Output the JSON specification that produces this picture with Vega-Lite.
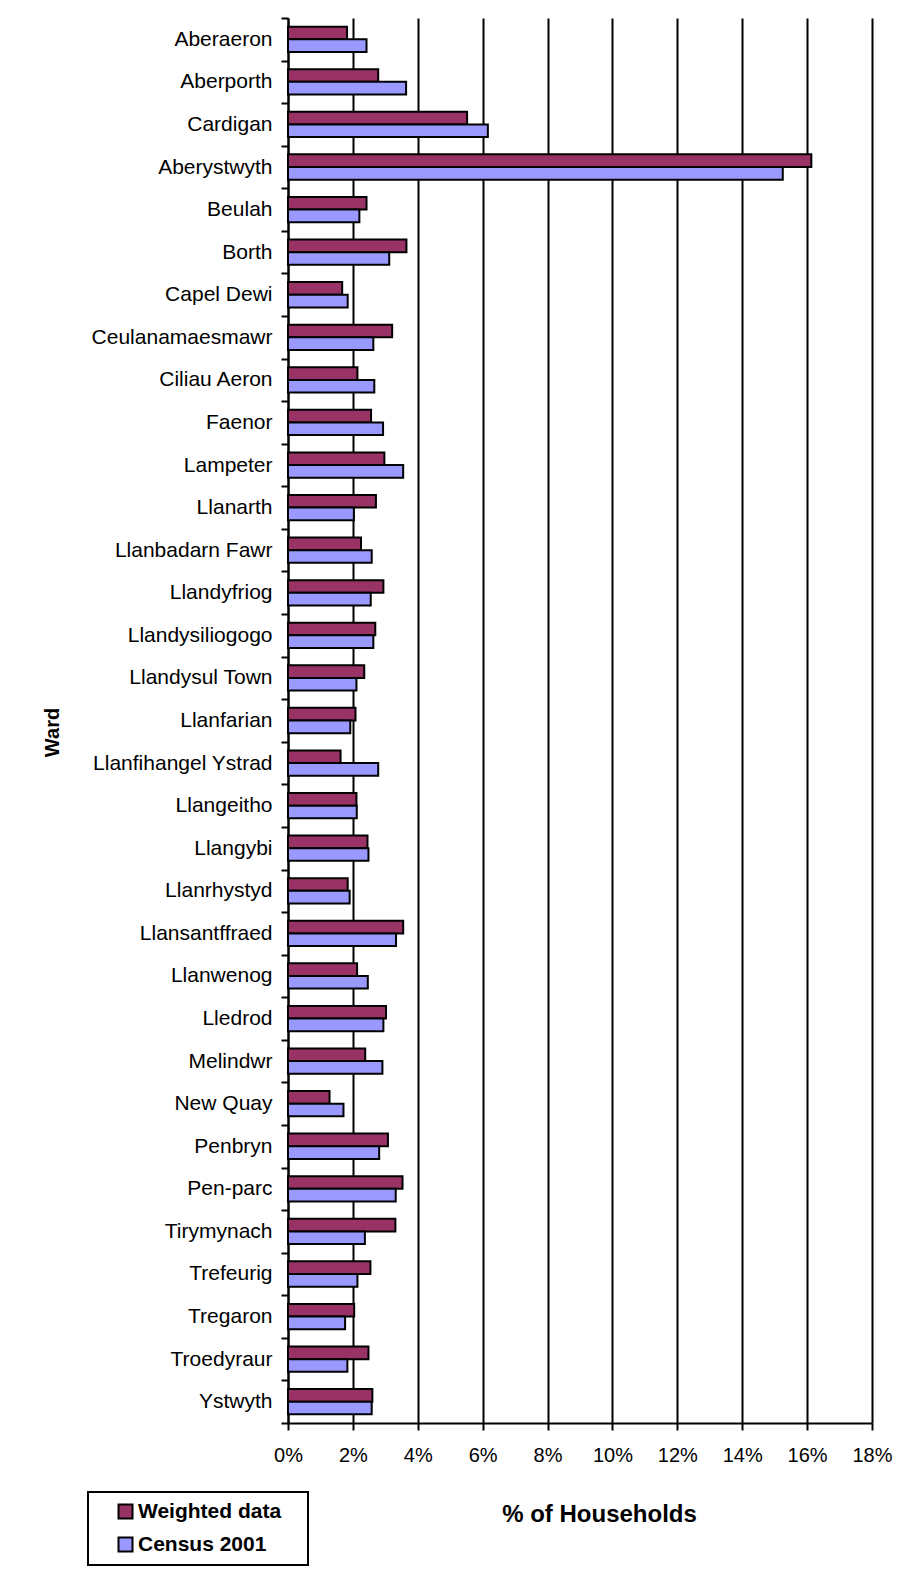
{
  "$schema": "https://vega.github.io/schema/vega-lite/v6.json",
  "autosize": "none",
  "padding": {"left": 288, "top": 18, "right": 42, "bottom": 172},
  "width": 584,
  "height": 1405,
  "background": "white",
  "config": {
    "font": "Liberation Sans",
    "view": {"stroke": null}
  },
  "data": {
    "values": [
      {"ward": "Aberaeron", "series": "Weighted data", "pct": 1.82},
      {"ward": "Aberaeron", "series": "Census 2001", "pct": 2.42},
      {"ward": "Aberporth", "series": "Weighted data", "pct": 2.78},
      {"ward": "Aberporth", "series": "Census 2001", "pct": 3.64},
      {"ward": "Cardigan", "series": "Weighted data", "pct": 5.52},
      {"ward": "Cardigan", "series": "Census 2001", "pct": 6.16},
      {"ward": "Aberystwyth", "series": "Weighted data", "pct": 16.13},
      {"ward": "Aberystwyth", "series": "Census 2001", "pct": 15.25},
      {"ward": "Beulah", "series": "Weighted data", "pct": 2.42},
      {"ward": "Beulah", "series": "Census 2001", "pct": 2.2},
      {"ward": "Borth", "series": "Weighted data", "pct": 3.65},
      {"ward": "Borth", "series": "Census 2001", "pct": 3.12},
      {"ward": "Capel Dewi", "series": "Weighted data", "pct": 1.67},
      {"ward": "Capel Dewi", "series": "Census 2001", "pct": 1.84},
      {"ward": "Ceulanamaesmawr", "series": "Weighted data", "pct": 3.21},
      {"ward": "Ceulanamaesmawr", "series": "Census 2001", "pct": 2.63},
      {"ward": "Ciliau Aeron", "series": "Weighted data", "pct": 2.14},
      {"ward": "Ciliau Aeron", "series": "Census 2001", "pct": 2.66},
      {"ward": "Faenor", "series": "Weighted data", "pct": 2.56},
      {"ward": "Faenor", "series": "Census 2001", "pct": 2.93},
      {"ward": "Lampeter", "series": "Weighted data", "pct": 2.97},
      {"ward": "Lampeter", "series": "Census 2001", "pct": 3.55},
      {"ward": "Llanarth", "series": "Weighted data", "pct": 2.71},
      {"ward": "Llanarth", "series": "Census 2001", "pct": 2.03},
      {"ward": "Llanbadarn Fawr", "series": "Weighted data", "pct": 2.25},
      {"ward": "Llanbadarn Fawr", "series": "Census 2001", "pct": 2.58},
      {"ward": "Llandyfriog", "series": "Weighted data", "pct": 2.94},
      {"ward": "Llandyfriog", "series": "Census 2001", "pct": 2.55},
      {"ward": "Llandysiliogogo", "series": "Weighted data", "pct": 2.69},
      {"ward": "Llandysiliogogo", "series": "Census 2001", "pct": 2.63},
      {"ward": "Llandysul Town", "series": "Weighted data", "pct": 2.35},
      {"ward": "Llandysul Town", "series": "Census 2001", "pct": 2.11},
      {"ward": "Llanfarian", "series": "Weighted data", "pct": 2.08},
      {"ward": "Llanfarian", "series": "Census 2001", "pct": 1.92},
      {"ward": "Llanfihangel Ystrad", "series": "Weighted data", "pct": 1.62},
      {"ward": "Llanfihangel Ystrad", "series": "Census 2001", "pct": 2.78},
      {"ward": "Llangeitho", "series": "Weighted data", "pct": 2.11},
      {"ward": "Llangeitho", "series": "Census 2001", "pct": 2.12},
      {"ward": "Llangybi", "series": "Weighted data", "pct": 2.45},
      {"ward": "Llangybi", "series": "Census 2001", "pct": 2.48},
      {"ward": "Llanrhystyd", "series": "Weighted data", "pct": 1.84},
      {"ward": "Llanrhystyd", "series": "Census 2001", "pct": 1.9},
      {"ward": "Llansantffraed", "series": "Weighted data", "pct": 3.55},
      {"ward": "Llansantffraed", "series": "Census 2001", "pct": 3.33},
      {"ward": "Llanwenog", "series": "Weighted data", "pct": 2.13},
      {"ward": "Llanwenog", "series": "Census 2001", "pct": 2.46},
      {"ward": "Lledrod", "series": "Weighted data", "pct": 3.02},
      {"ward": "Lledrod", "series": "Census 2001", "pct": 2.94},
      {"ward": "Melindwr", "series": "Weighted data", "pct": 2.38},
      {"ward": "Melindwr", "series": "Census 2001", "pct": 2.91},
      {"ward": "New Quay", "series": "Weighted data", "pct": 1.28},
      {"ward": "New Quay", "series": "Census 2001", "pct": 1.71},
      {"ward": "Penbryn", "series": "Weighted data", "pct": 3.08},
      {"ward": "Penbryn", "series": "Census 2001", "pct": 2.81},
      {"ward": "Pen-parc", "series": "Weighted data", "pct": 3.53},
      {"ward": "Pen-parc", "series": "Census 2001", "pct": 3.32},
      {"ward": "Tirymynach", "series": "Weighted data", "pct": 3.31},
      {"ward": "Tirymynach", "series": "Census 2001", "pct": 2.37},
      {"ward": "Trefeurig", "series": "Weighted data", "pct": 2.54},
      {"ward": "Trefeurig", "series": "Census 2001", "pct": 2.14},
      {"ward": "Tregaron", "series": "Weighted data", "pct": 2.04},
      {"ward": "Tregaron", "series": "Census 2001", "pct": 1.76},
      {"ward": "Troedyraur", "series": "Weighted data", "pct": 2.48},
      {"ward": "Troedyraur", "series": "Census 2001", "pct": 1.83},
      {"ward": "Ystwyth", "series": "Weighted data", "pct": 2.6},
      {"ward": "Ystwyth", "series": "Census 2001", "pct": 2.58}
    ]
  },
  "mark": {"type": "bar", "stroke": "black", "strokeWidth": 2},
  "encoding": {
    "y": {
      "field": "ward",
      "type": "nominal",
      "sort": null,
      "scale": {"paddingInner": 0, "paddingOuter": 0},
      "axis": {
        "title": "Ward",
        "titleFont": "Liberation Sans",
        "titleFontSize": 20,
        "titleFontWeight": "bold",
        "titleColor": "black",
        "titleAngle": 270,
        "titleBaseline": "middle",
        "titleAlign": "center",
        "titleX": -236,
        "titleY": 714,
        "tickBand": "extent",
        "domainColor": "black",
        "domainWidth": 2,
        "tickColor": "black",
        "tickWidth": 2,
        "tickSize": 7,
        "labelFontSize": 21,
        "labelColor": "black",
        "labelPadding": 9,
        "labelLimit": 300,
        "grid": false
      }
    },
    "yOffset": {
      "field": "series",
      "type": "nominal",
      "sort": ["Weighted data", "Census 2001"],
      "scale": {"paddingInner": 0, "paddingOuter": 0.684}
    },
    "x": {
      "field": "pct",
      "type": "quantitative",
      "scale": {"domain": [0, 18], "nice": false},
      "axis": {
        "title": "% of Households",
        "titleFontSize": 24,
        "titleFontWeight": "bold",
        "titleColor": "black",
        "titleX": 311,
        "titleY": 98,
        "titleAlign": "center",
        "titleBaseline": "alphabetic",
        "values": [0, 2, 4, 6, 8, 10, 12, 14, 16, 18],
        "labelExpr": "datum.value + '%'",
        "labelFlush": false,
        "labelOverlap": false,
        "labelFontSize": 20,
        "labelColor": "black",
        "labelPadding": 15,
        "grid": true,
        "gridColor": "black",
        "gridWidth": 2,
        "gridOpacity": 1,
        "domainColor": "black",
        "domainWidth": 2,
        "tickColor": "black",
        "tickWidth": 2,
        "tickSize": 7
      }
    },
    "fill": {
      "field": "series",
      "type": "nominal",
      "scale": {"domain": ["Weighted data", "Census 2001"], "range": ["#993366", "#9999FF"]},
      "legend": {
        "orient": "none",
        "legendX": -200,
        "legendY": 1474,
        "title": null,
        "padding": 9,
        "rowPadding": 10,
        "strokeColor": "black",
        "fillColor": "white",
        "symbolType": "square",
        "symbolSize": 196,
        "symbolOffset": 18,
        "symbolStrokeColor": "black",
        "symbolStrokeWidth": 2,
        "symbolOpacity": 1,
        "labelFontSize": 21,
        "labelFontWeight": "bold",
        "labelColor": "black",
        "labelOffset": 2,
        "labelLimit": 300,
        "labelExpr": "datum.label + '\u00a0\u00a0\u00a0\u200b'",
        "encode": {"legend": {"update": {"strokeWidth": {"value": 2}}}}
      }
    }
  }
}
